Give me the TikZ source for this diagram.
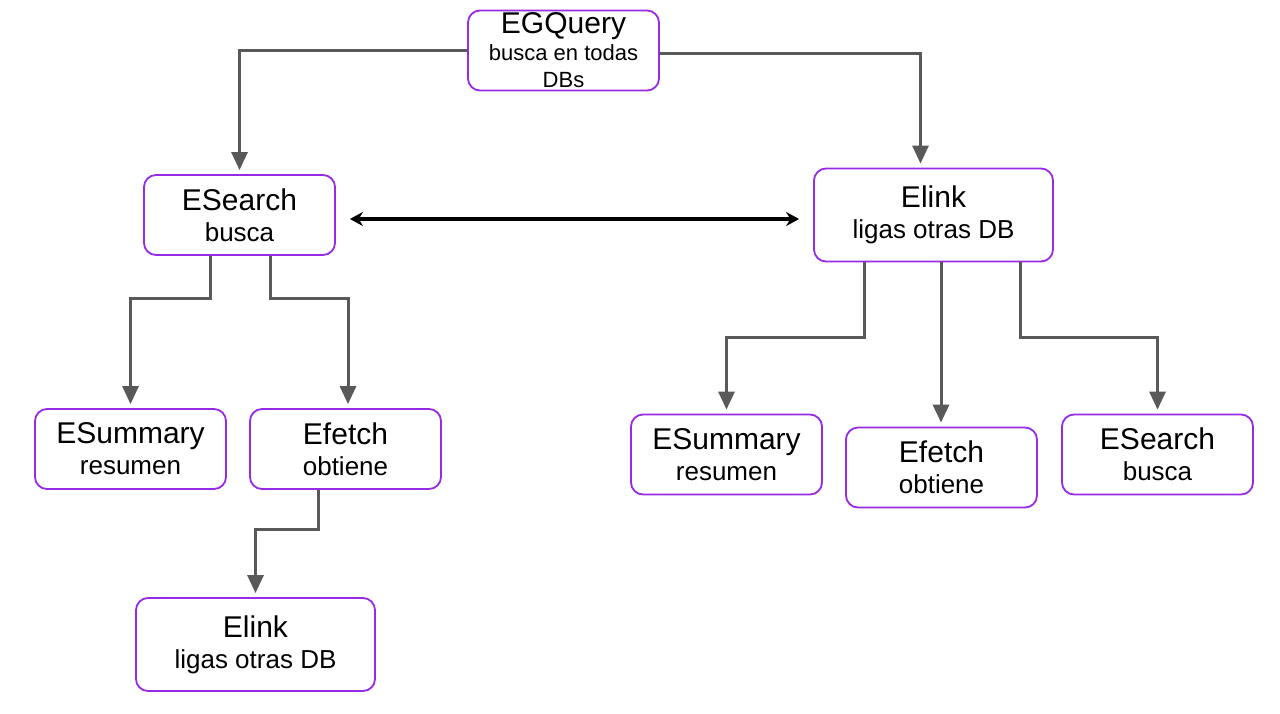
\documentclass[tikz,border=0pt]{standalone}
\usepackage{fontspec}
\setmainfont{Liberation Sans}
\usetikzlibrary{arrows.meta}
\definecolor{boxline}{RGB}{150,42,230}
\definecolor{wire}{RGB}{89,89,89}
\newcommand{\hd}{\fontsize{30}{31}\selectfont}
\newcommand{\ds}{\fontsize{26}{31}\selectfont}
\newcommand{\dsq}{\fontsize{22}{27}\selectfont}

\begin{document}
\begin{tikzpicture}
						[x=1pt,y=-1pt,
						box/.style={rectangle,rounded corners=12pt,draw=boxline,line width=1.8pt,fill=white,minimum width=191pt,minimum height=80pt,inner sep=0pt,align=center,font=\ds},
						wide/.style={box,minimum width=239pt,minimum height=93pt},
						conn/.style={-{Triangle[width=16pt,length=18pt]},draw=wire,line width=3pt,shorten >=4pt},
						both/.style={{Stealth[width=14pt,length=13pt]}-{Stealth[width=14pt,length=13pt]},line width=3.2pt,black,shorten >=14pt,shorten <=14pt}]
					\useasboundingbox (0,0) rectangle (1280,713);
					\node[box,font=\dsq] (egq) at (563.5,50.5) {\hd EGQuery\\busca en todas\\DBs};
					\node[box] (es) at (239.5,215) {\hd ESearch\\busca};
					\node[wide] (el) at (933.5,215) {\hd Elink\\ligas otras DB};
					\node[box] (sumL) at (130.5,449) {\hd ESummary\\resumen};
					\node[box] (fetL) at (345.5,449) {\hd Efetch\\obtiene};
					\node[wide] (elB) at (255.5,644.5) {\hd Elink\\ligas otras DB};
					\node[box] (sumR) at (726.5,454.5) {\hd ESummary\\resumen};
					\node[box] (fetR) at (941.5,467.5) {\hd Efetch\\obtiene};
					\node[box] (esR) at (1157.5,454.5) {\hd ESearch\\busca};
					\draw[conn] (egq.west) -| (es.north);
					\draw[conn] ([yshift=-2.5pt]egq.east) -| ([xshift=-13pt]el.north);
					\path ([yshift=-4pt]es.east) edge[both] ([yshift=-4pt]el.west);
					\draw[conn] ([xshift=-29.5pt]es.south) -- ++(0,43) -| (sumL.north);
					\draw[conn] ([xshift=30.5pt]es.south) -- ++(0,43) -| ([xshift=2.5pt]fetL.north);
					\draw[conn] ([xshift=-27.5pt]fetL.south) -- ++(0,40) -| (elB.north);
					\draw[conn] ([xshift=-69.5pt]el.south) -- ++(0,75) -| (sumR.north);
					\path ([xshift=7.5pt]el.south) edge[conn] ([xshift=-0.5pt]fetR.north);
					\draw[conn] ([xshift=86.5pt]el.south) -- ++(0,75) -| (esR.north);
				\end{tikzpicture}
\end{document}
